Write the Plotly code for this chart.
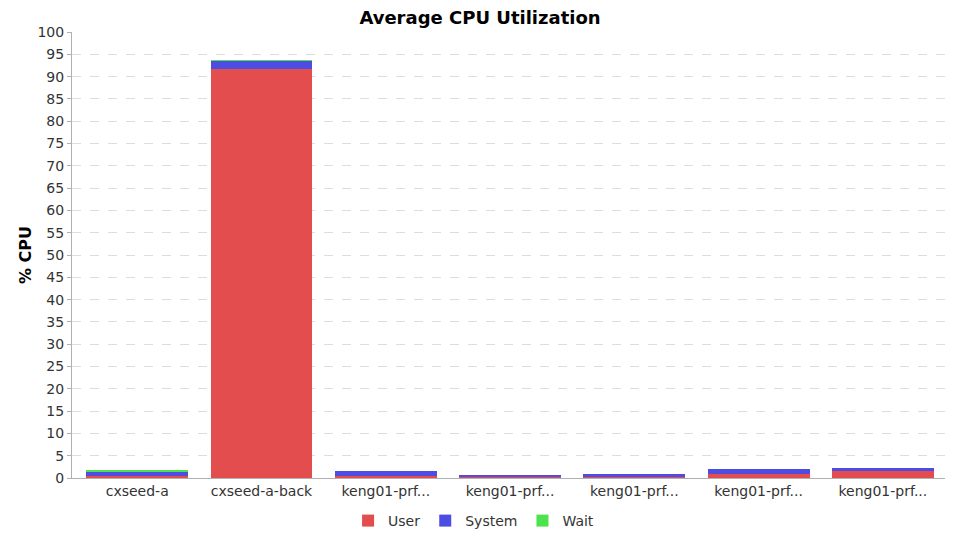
import plotly.graph_objects as go

categories = ["cxseed-a", "cxseed-a-back", "keng01-prf...", "keng01-prf...",
              "keng01-prf...", "keng01-prf...", "keng01-prf..."]
user = [0.5, 91.7, 0.5, 0.4, 0.4, 0.9, 1.6]
system = [0.9, 1.9, 1.05, 0.3, 0.4, 1.1, 0.75]
wait = [0.4, 0.1, 0.0, 0.0, 0.0, 0.0, 0.0]
y_ticks = list(range(0, 101, 5))

x = list(range(len(categories)))

fig = go.Figure()
for name, vals, col in [("User", user, "#E34D4D"),
                        ("System", system, "#4D4DE3"),
                        ("Wait", wait, "#4DE34D")]:
    fig.add_trace(go.Bar(x=x, y=vals, name=name,
                         marker=dict(color=col, line=dict(width=0))))

fig.update_layout(
    barmode="stack",
    bargap=0.18,
    width=960, height=540,
    paper_bgcolor="white", plot_bgcolor="white",
    margin=dict(l=72, r=15, t=32, b=62, autoexpand=False),
    font=dict(family="DejaVu Sans", size=14, color="#333333"),
    title=dict(text="<b>Average CPU Utilization</b>", x=0.5, xanchor="center",
               y=0.968, yanchor="middle", font=dict(size=18, color="#000000")),
    legend=dict(orientation="h", x=0.46, xanchor="center", y=-0.0964, yanchor="middle",
                font=dict(size=14, color="#333333"), traceorder="normal",
                itemwidth=30),
    showlegend=True,
)
fig.update_xaxes(
    tickvals=x, ticktext=categories, range=[-0.525, len(categories) - 0.5],
    showgrid=False, showline=True, linecolor="#b0b0b0", linewidth=1,
    ticks="", tickfont=dict(size=14, color="#333333"), zeroline=False,
    automargin=False,
)
fig.update_yaxes(
    range=[0, 100], tickvals=y_ticks, showgrid=True, gridcolor="#dddddd",
    griddash="dash", gridwidth=1, showline=True, linecolor="#b0b0b0",
    linewidth=1, ticks="outside", ticklen=4, tickcolor="#b0b0b0",
    tickfont=dict(size=14, color="#333333"), zeroline=False, automargin=False,
    title=dict(text="<b>% CPU</b>", font=dict(size=16, color="#000000"), standoff=1),
)

fig.write_html("out.html", config={"displayModeBar": False},
               post_script="document.body.style.margin='0px';")
